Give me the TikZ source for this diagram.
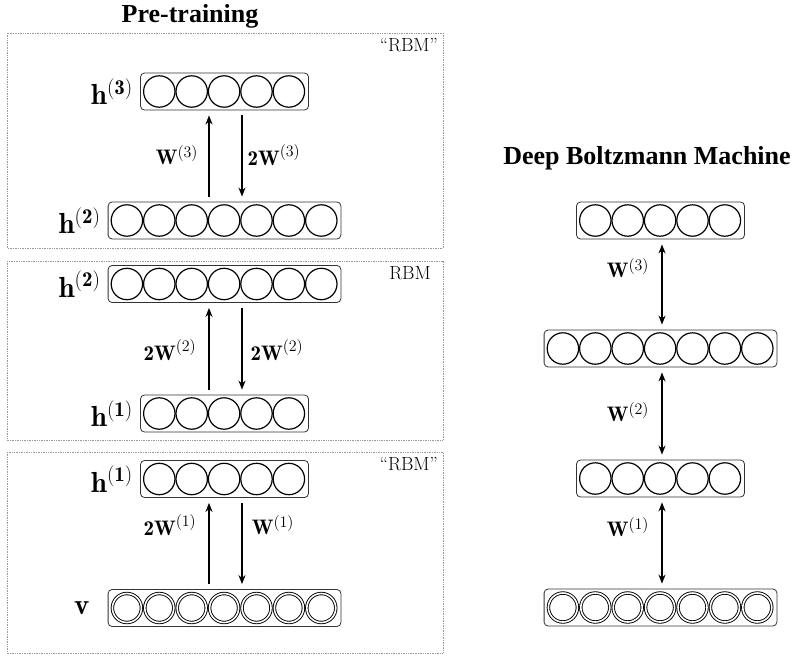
\RequirePackage{fix-cm}
\documentclass[tikz,border=0pt]{standalone}
\usepackage{fontspec}
\usepackage{amsmath, amssymb}
\usepackage{tikz}
\usetikzlibrary{arrows.meta, positioning, calc}
\newfontfamily\titlefont{Liberation Serif}
\DeclareMathSizes{29}{29}{21}{15}
\DeclareMathSizes{21}{21}{16}{12}
\tikzset{
	stagebox/.style={draw=gray!80, densely dotted, line width=0.7pt},
	unitbar/.style={draw=black!80, rounded corners=4pt, line width=0.8pt, minimum height=37pt, inner sep=0pt},
	unit/.style={draw, circle, minimum size=31.4pt, inner sep=0pt, line width=1.2pt},
	visunit/.style={draw, circle, minimum size=29pt, inner sep=0pt, double, double distance=1.6pt, line width=0.9pt},
	lyrlabel/.style={font=\fontsize{29}{33}\selectfont, inner sep=0pt},
	wlabel/.style={font=\fontsize{21}{25}\selectfont, inner sep=0pt},
	rbmtag/.style={font=\fontsize{19}{22}\selectfont, inner sep=0pt, anchor=north east},
	titletext/.style={font=\fontsize{26}{30}\selectfont\titlefont\bfseries, inner sep=0pt},
	onearr/.style={-{Stealth[length=9pt, width=7pt]}, line width=1.6pt, shorten <=5pt, shorten >=5pt},
	twoarr/.style={{Stealth[length=9pt, width=7pt]}-{Stealth[length=9pt, width=7pt]}, line width=1.6pt, shorten <=5pt, shorten >=5pt},
}
% a layer: name, x, y, number of units, unit style
\newcommand{\unitrow}[5]{%
	\node[unitbar, minimum width=#4*32.4pt+6pt] (#1) at (#2,#3) {};
	\foreach \k in {1,...,#4}
		\node[#5] (#1-\k) at ($(#1.west)+(\k*32.4-13.2,0)$) {};
}

\begin{document}
\begin{tikzpicture}[x=1pt, y=-1pt]
	\useasboundingbox (0,0) rectangle (795,656);

	% pre-training stack
	\node[titletext] (pretitle) at (190,16) {Pre-training};
	\draw[stagebox] (7,33) rectangle (443,248);
	\draw[stagebox] (7,261) rectangle (443,440);
	\draw[stagebox] (7,452) rectangle (443,653);
	\node[rbmtag] (tag3) at (438,38) {``RBM''};
	\node[rbmtag] (tag2) at (431,266) {RBM};
	\node[rbmtag] (tag1) at (438,457) {``RBM''};

	\unitrow{h3a}{224.5}{91.5}{5}{unit}
	\unitrow{h2a}{224.5}{220.5}{7}{unit}
	\unitrow{h2b}{224.5}{284}{7}{unit}
	\unitrow{h1b}{224.5}{413.5}{5}{unit}
	\unitrow{h1c}{224.5}{479}{5}{unit}
	\unitrow{vc}{224.5}{608}{7}{visunit}

	\node[lyrlabel, left=7pt of h3a] (lh3a) {$\mathbf{h}^{(\mathbf{3})}$};
	\node[lyrlabel, left=7pt of h2a] (lh2a) {$\mathbf{h}^{(\mathbf{2})}$};
	\node[lyrlabel, left=7pt of h2b] (lh2b) {$\mathbf{h}^{(\mathbf{2})}$};
	\node[lyrlabel, left=7pt of h1b] (lh1b) {$\mathbf{h}^{(\mathbf{1})}$};
	\node[lyrlabel, left=7pt of h1c] (lh1c) {$\mathbf{h}^{(\mathbf{1})}$};
	\node[lyrlabel, left=18pt of vc] (lvc) {$\mathbf{v}$};

	\draw[onearr] ([xshift=-15.5pt]h2a.north) -- ([xshift=-15.5pt]h3a.south);
	\draw[onearr] ([xshift=17.5pt]h3a.south) -- ([xshift=17.5pt]h2a.north);
	\draw[onearr] ([xshift=-15.5pt]h1b.north) -- ([xshift=-15.5pt]h2b.south);
	\draw[onearr] ([xshift=17.5pt]h2b.south) -- ([xshift=17.5pt]h1b.north);
	\draw[onearr] ([xshift=-15.5pt]vc.north) -- ([xshift=-15.5pt]h1c.south);
	\draw[onearr] ([xshift=17.5pt]h1c.south) -- ([xshift=17.5pt]vc.north);

	\node[wlabel] (w3up) at (177,155) {$\mathbf{W}^{(3)}$};
	\node[wlabel] (w3dn) at (274,155) {$\mathbf{2W}^{(3)}$};
	\node[wlabel] (w2up) at (170,350) {$\mathbf{2W}^{(2)}$};
	\node[wlabel] (w2dn) at (277,350) {$\mathbf{2W}^{(2)}$};
	\node[wlabel] (w1up) at (170,525) {$\mathbf{2W}^{(1)}$};
	\node[wlabel] (w1dn) at (273,525) {$\mathbf{W}^{(1)}$};

	% deep boltzmann machine
	\node[titletext] (dbmtitle) at (647,158) {Deep Boltzmann Machine};
	\unitrow{dh3}{660.5}{220.5}{5}{unit}
	\unitrow{dh2}{660.5}{348.5}{7}{unit}
	\unitrow{dh1}{660.5}{478.5}{5}{unit}
	\unitrow{dv}{660.5}{607.5}{7}{visunit}

	\draw[twoarr] ([xshift=1.5pt]dh3.south) -- ([xshift=1.5pt]dh2.north);
	\draw[twoarr] ([xshift=1.5pt]dh2.south) -- ([xshift=1.5pt]dh1.north);
	\draw[twoarr] ([xshift=1.5pt]dh1.south) -- ([xshift=1.5pt]dv.north);

	\node[wlabel] (dw3) at (628,268) {$\mathbf{W}^{(3)}$};
	\node[wlabel] (dw2) at (628,412) {$\mathbf{W}^{(2)}$};
	\node[wlabel] (dw1) at (628,527) {$\mathbf{W}^{(1)}$};
\end{tikzpicture}
\end{document}
